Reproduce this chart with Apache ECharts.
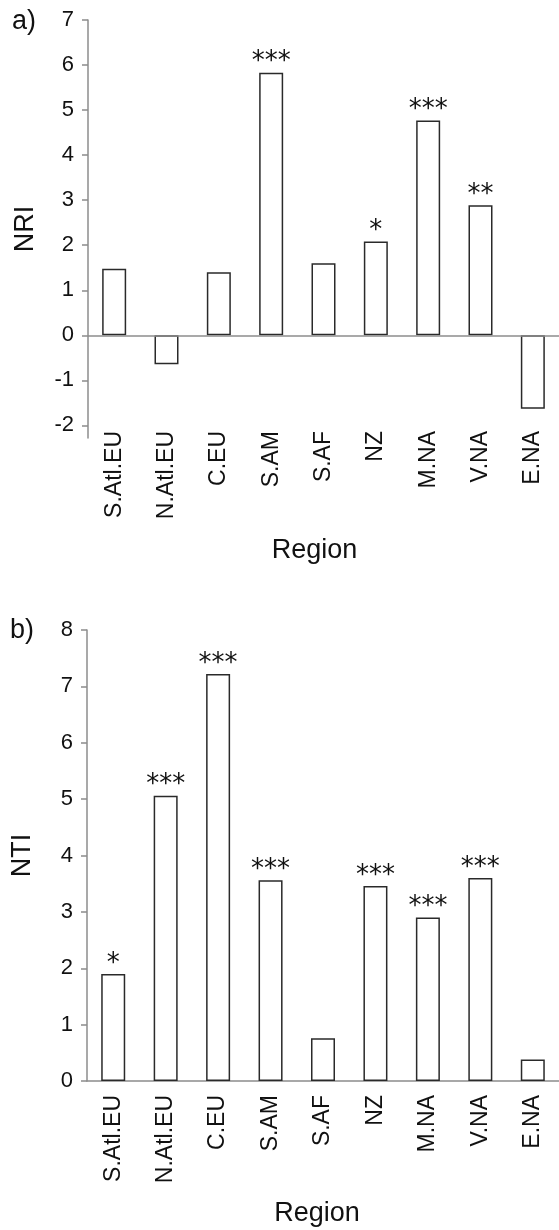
<!DOCTYPE html>
<html>
<head>
<meta charset="utf-8">
<script src="https://cdn.jsdelivr.net/npm/echarts@6/dist/echarts.min.js"></script>
<style>
html,body{margin:0;padding:0;background:#fff;}
#main{width:559px;height:1230px;}
</style>
</head>
<body>
<div id="main"></div>
<script>
var categories = ['S.Atl.EU','N.Atl.EU','C.EU','S.AM','S.AF','NZ','M.NA','V.NA','E.NA'];
var nriValues = [1.48,-0.64,1.40,5.83,1.60,2.08,4.77,2.89,-1.63];
var nriSig = ['','','','***','','*','***','**',''];
var ntiValues = [1.90,5.06,7.22,3.56,0.76,3.46,2.90,3.60,0.38];
var ntiSig = ['*','***','***','***','','***','***','***',''];
var nriTicks = [-2,-1,0,1,2,3,4,5,6,7];

var font = 'Liberation Sans, Arial, sans-serif';
var axisGray = '#8c8c8c';

function barSeries(values, sig, idx) {
    return {
        type: 'bar',
        xAxisIndex: idx,
        yAxisIndex: idx,
        barWidth: 24,
        data: values,
        itemStyle: {color: '#fff', borderColor: '#2a2a2a', borderWidth: 1.5},
        label: {
            show: true,
            position: 'top',
            distance: -3,
            fontFamily: 'DejaVu Sans, sans-serif',
            fontSize: 26,
            color: '#111',
            formatter: function (p) { return sig[p.dataIndex]; }
        }
    };
}

var myChart = echarts.init(document.getElementById('main'));
var s1 = barSeries(nriValues, nriSig, 0);
s1.markLine = {
    silent: true,
    symbol: 'none',
    label: {show: false},
    lineStyle: {color: axisGray, width: 1.5, type: 'solid'},
    data: [{yAxis: 0}]
};

var option = {
    animation: false,
    backgroundColor: '#fff',
    grid: [
        {left: 88, right: 0, top: 20, bottom: 792, outerBoundsMode: 'none', containLabel: false},
        {left: 87, right: 0, top: 630, bottom: 149, outerBoundsMode: 'none', containLabel: false}
    ],
    xAxis: [
        {
            type: 'category', gridIndex: 0, data: categories,
            axisLine: {show: false, onZero: false}, axisTick: {show: false},
            axisLabel: {rotate: 90, margin: -7, fontFamily: font, fontSize: 23, color: '#111'},
            name: 'Region', nameLocation: 'middle', nameGap: 99, nameMoveOverlap: false,
            nameTextStyle: {fontFamily: font, fontSize: 27, color: '#111', padding: [0, 18, 0, 0]}
        },
        {
            type: 'category', gridIndex: 1, data: categories,
            axisLine: {show: true, lineStyle: {color: axisGray, width: 1.5}}, axisTick: {show: false},
            axisLabel: {rotate: 90, margin: 14, fontFamily: font, fontSize: 23, color: '#111'},
            name: 'Region', nameLocation: 'middle', nameGap: 119, nameMoveOverlap: false,
            nameTextStyle: {fontFamily: font, fontSize: 27, color: '#111', padding: [0, 12, 0, 0]}
        }
    ],
    yAxis: [
        {
            type: 'value', gridIndex: 0, min: -2.28, max: 7,
            splitLine: {show: false},
            axisLine: {show: true, lineStyle: {color: axisGray, width: 1.5}},
            axisTick: {show: true, length: 6, customValues: nriTicks, lineStyle: {color: axisGray, width: 1.5}},
            axisLabel: {margin: 14, customValues: nriTicks, fontFamily: font, fontSize: 22, color: '#111'},
            name: 'NRI', nameLocation: 'middle', nameGap: 49, nameMoveOverlap: false,
            nameTextStyle: {fontFamily: font, fontSize: 27, color: '#111'}
        },
        {
            type: 'value', gridIndex: 1, min: 0, max: 8, interval: 1,
            splitLine: {show: false},
            axisLine: {show: true, lineStyle: {color: axisGray, width: 1.5}},
            axisTick: {show: true, length: 6, lineStyle: {color: axisGray, width: 1.5}},
            axisLabel: {margin: 14, fontFamily: font, fontSize: 22, color: '#111'},
            name: 'NTI', nameLocation: 'middle', nameGap: 51, nameMoveOverlap: false,
            nameTextStyle: {fontFamily: font, fontSize: 27, color: '#111'}
        }
    ],
    graphic: [
        {type: 'text', left: 12, top: 8, style: {text: 'a)', font: '27px ' + font, fill: '#111'}},
        {type: 'text', left: 10, top: 617, style: {text: 'b)', font: '27px ' + font, fill: '#111'}}
    ],
    series: [s1, barSeries(ntiValues, ntiSig, 1)]
};
myChart.setOption(option);
</script>
</body>
</html>
